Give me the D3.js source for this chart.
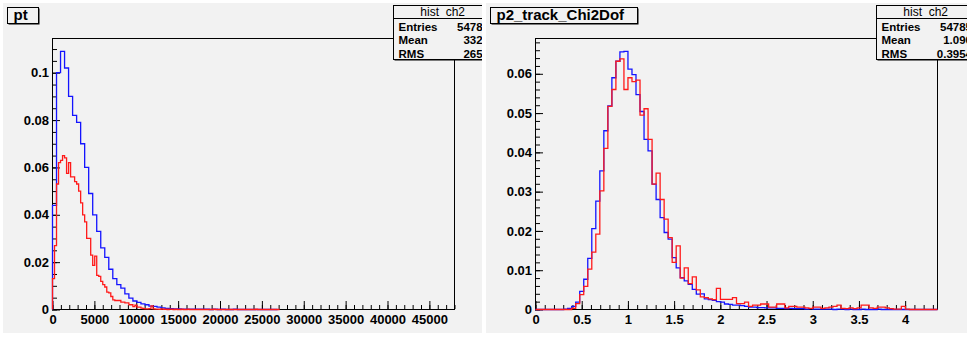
<!DOCTYPE html>
<html>
<head>
<meta charset="utf-8">
<script src="https://cdn.jsdelivr.net/npm/d3@7"></script>
<style>
  html, body { margin: 0; padding: 0; background: #ffffff; }
  svg { display: block; font-family: "Liberation Sans", Arial, Helvetica, sans-serif; }
</style>
</head>
<body>
<svg id="canvas" width="967" height="342"></svg>
<script>
// ---------------- pt : normalised distributions ----------------
const ptBlueBinWidth = 480;
const ptRedBinWidth = 240;
const ptBlue = [
  0.044, 0.100, 0.109, 0.102, 0.090, 0.082, 0.079, 0.070, 0.060, 0.049,
  0.040, 0.033, 0.026, 0.022, 0.017, 0.013, 0.0105, 0.0090, 0.0066, 0.0048,
  0.0036, 0.0030, 0.0024, 0.0020, 0.0014, 0.0013, 0.0010, 0.0007, 0.0005, 0.0004,
  0.0003, 0.0003, 0.0002, 0.0002, 0.0001, 0.0002, 0.0001, 0.0001, 0.0001, 0,
  0.0001, 0, 0.0001, 0, 0, 0.0001, 0, 0, 0, 0,
  0, 0, 0, 0, 0, 0
];
const ptRed = [
  0.013, 0.027, 0.053, 0.062, 0.063, 0.065, 0.064, 0.0575, 0.062, 0.056,
  0.056, 0.054, 0.053, 0.050, 0.045, 0.040, 0.037, 0.030, 0.030, 0.023,
  0.0186, 0.0225, 0.0144, 0.0140, 0.0119, 0.0105, 0.0095, 0.0073, 0.0070, 0.0055,
  0.0041, 0.0038, 0.0038, 0.0038, 0.0031, 0.0031, 0.0028, 0.0028, 0.0020, 0.0020,
  0.0012, 0.0018, 0.0010, 0.0010, 0.0006, 0.0004, 0.0003, 0.0003, 0.0004, 0.0015,
  0.0003, 0.0002, 0.0002, 0.0001, 0.0003, 0.0001, 0.0001, 0, 0.0002, 0.0001,
  0, 0.0001, 0, 0, 0.0001, 0, 0, 0.0001, 0, 0,
  0, 0, 0, 0, 0, 0, 0, 0, 0, 0,
  0.0001, 0, 0, 0, 0, 0, 0, 0, 0, 0,
  0, 0, 0, 0, 0, 0, 0, 0, 0, 0,
  0, 0.0001, 0, 0, 0, 0, 0, 0, 0, 0, 0, 0, 0
];
const ptXRange = [0, 48000];
const ptXTicks = [0, 5000, 10000, 15000, 20000, 25000, 30000, 35000, 40000, 45000];
const ptXLabels = ["0", "5000", "10000", "15000", "20000", "25000", "30000", "35000", "40000", "45000"];
const ptYTicks = [0, 0.02, 0.04, 0.06, 0.08, 0.1];
const ptYLabels = ["0", "0.02", "0.04", "0.06", "0.08", "0.1"];
const ptStats = [["Entries", "54785"], ["Mean", "3323"], ["RMS", "2657"]];

// ---------------- p2_track_Chi2Dof : normalised distributions ----------------
const chiBinWidth = 0.0435;
const chiBlue = [
  0, 0, 0, 0, 0, 0, 0, 0.0001, 0.0003, 0.0008,
  0.0019, 0.0046, 0.0077, 0.0130, 0.0206, 0.0276, 0.0353, 0.0455, 0.0518, 0.0590,
  0.0632, 0.0656, 0.0657, 0.0612, 0.0598, 0.0547, 0.0504, 0.0433, 0.0404, 0.0319,
  0.0280, 0.0234, 0.0196, 0.0179, 0.0132, 0.0106, 0.0081, 0.0073, 0.0064, 0.0051,
  0.0039, 0.0040, 0.0027, 0.0025, 0.0023, 0.0020, 0.0019, 0.0014, 0.0013, 0.0011,
  0.0011, 0.0010, 0.0008, 0.0006, 0.0006, 0.0005, 0.0005, 0.0004, 0.0004, 0.0004,
  0.0003, 0.0003, 0.0002, 0.0003, 0.0002, 0.0002, 0.0002, 0.0001, 0.0002, 0.0001,
  0.0001, 0.0001, 0.0001, 0.0001, 0, 0.0001, 0.0001, 0, 0.0001, 0,
  0, 0.0001, 0, 0, 0, 0.0001, 0, 0, 0, 0,
  0, 0, 0, 0, 0, 0, 0, 0, 0, 0
];
const chiRed = [
  0, 0, 0, 0, 0, 0, 0, 0, 0, 0.0003,
  0.0015, 0.0038, 0.0059, 0.0103, 0.0146, 0.0192, 0.0302, 0.0410, 0.0517, 0.0560,
  0.0632, 0.0638, 0.0560, 0.0590, 0.0580, 0.0584, 0.0495, 0.0511, 0.0433, 0.0319,
  0.0347, 0.0280, 0.0230, 0.0183, 0.0120, 0.0162, 0.0080, 0.0106, 0.0066, 0.0083,
  0.0050, 0.0032, 0.0030, 0.0027, 0.0025, 0.0054, 0.0026, 0.0026, 0.0026, 0.0030,
  0.0015, 0.0015, 0.0019, 0.0008, 0.0011, 0.0011, 0.0014, 0.0014, 0.0006, 0.0006,
  0.0014, 0.0014, 0.0004, 0.0008, 0.0008, 0.0006, 0.0006, 0.0004, 0.0003, 0.0006,
  0.0006, 0.0003, 0.0004, 0.0006, 0.0008, 0.0011, 0.0003, 0.0002, 0.0004, 0.0002,
  0.0004, 0.0011, 0.0011, 0.0004, 0.0003, 0.0006, 0.0006, 0.0004, 0.0002, 0.0001,
  0.0001, 0.0008, 0.0001, 0, 0, 0, 0, 0, 0, 0
];
const chiXRange = [0, 4.35];
const chiXTicks = [0, 0.5, 1, 1.5, 2, 2.5, 3, 3.5, 4];
const chiXLabels = ["0", "0.5", "1", "1.5", "2", "2.5", "3", "3.5", "4"];
const chiYTicks = [0, 0.01, 0.02, 0.03, 0.04, 0.05, 0.06];
const chiYLabels = ["0", "0.01", "0.02", "0.03", "0.04", "0.05", "0.06"];
const chiStats = [["Entries", "54785"], ["Mean", "1.090"], ["RMS", "0.3954"]];

const statsTitle = "hist_ch2";
const blueColor = "#1414ff";
const redColor = "#ff1a1a";

// ---------------- shared pad layout ----------------
const pad = { left: 3, top: 3, bottom: 333 };
const frame = { left: 52.5, right: 454.5, top: 38.5, bottom: 309.5 };

const panels = [
  {
    id: "pt", offset: 0, padRight: 482, title: "pt",
    xRange: ptXRange, xTicks: ptXTicks, xLabels: ptXLabels, xMinor: 1000,
    yTicks: ptYTicks, yLabels: ptYLabels, yMinor: 0.005,
    hists: [
      { values: ptBlue, width: ptBlueBinWidth, color: blueColor },
      { values: ptRed, width: ptRedBinWidth, color: redColor }
    ],
    stats: ptStats
  },
  {
    id: "chi", offset: 483, padRight: 967, title: "p2_track_Chi2Dof",
    xRange: chiXRange, xTicks: chiXTicks, xLabels: chiXLabels, xMinor: 0.1,
    yTicks: chiYTicks, yLabels: chiYLabels, yMinor: 0.002,
    hists: [
      { values: chiBlue, width: chiBinWidth, color: blueColor },
      { values: chiRed, width: chiBinWidth, color: redColor }
    ],
    stats: chiStats
  }
];

const svg = d3.select("#canvas");
svg.append("rect").attr("width", 967).attr("height", 342).attr("fill", "#ffffff");
const defs = svg.append("defs");

panels.forEach(p => {
  const padW = p.padRight - p.offset - pad.left;
  defs.append("clipPath").attr("id", "clip-" + p.id)
    .append("rect").attr("x", pad.left).attr("y", pad.top)
    .attr("width", padW).attr("height", pad.bottom - pad.top);

  const g = svg.append("g")
    .attr("transform", `translate(${p.offset},0)`)
    .attr("clip-path", `url(#clip-${p.id})`);

  g.append("rect").attr("x", pad.left).attr("y", pad.top)
    .attr("width", padW).attr("height", pad.bottom - pad.top)
    .attr("fill", "#f2f2f2");

  // vertical range: 5% headroom above the tallest bin of the first histogram
  const yMax = 1.05 * d3.max(p.hists[0].values);
  const x = d3.scaleLinear().domain(p.xRange).range([frame.left, frame.right]);
  const y = d3.scaleLinear().domain([0, yMax]).range([frame.bottom, frame.top]);

  // frame
  g.append("rect")
    .attr("x", frame.left).attr("y", frame.top)
    .attr("width", frame.right - frame.left).attr("height", frame.bottom - frame.top)
    .attr("fill", "none").attr("stroke", "#000").attr("stroke-width", 1);

  const styleAxis = sel => {
    sel.select(".domain").remove();
    sel.selectAll("line").attr("stroke", "#000").attr("stroke-width", 1);
    sel.selectAll("text")
      .attr("fill", "#000")
      .attr("font-family", "'Liberation Sans', Arial, Helvetica, sans-serif")
      .attr("font-weight", "bold")
      .attr("font-size", 13);
  };

  // x axis: minor then major ticks, pointing into the frame
  const xMinorVals = d3.range(p.xRange[0], p.xRange[1] + 1e-9, p.xMinor);
  g.append("g").attr("transform", `translate(0,${frame.bottom - 0.5})`)
    .call(d3.axisBottom(x).tickValues(xMinorVals).tickSize(-4).tickFormat(""))
    .call(styleAxis);
  g.append("g").attr("transform", `translate(0,${frame.bottom - 0.5})`)
    .call(d3.axisBottom(x).tickValues(p.xTicks).tickSize(-8).tickPadding(6)
      .tickFormat((d, i) => p.xLabels[i]))
    .call(styleAxis);

  // y axis
  const yMinorVals = d3.range(0, yMax, p.yMinor);
  g.append("g").attr("transform", `translate(${frame.left - 0.5},0)`)
    .call(d3.axisLeft(y).tickValues(yMinorVals).tickSize(-5).tickFormat(""))
    .call(styleAxis);
  g.append("g").attr("transform", `translate(${frame.left - 0.5},0)`)
    .call(d3.axisLeft(y).tickValues(p.yTicks).tickSize(-8).tickPadding(3)
      .tickFormat((d, i) => p.yLabels[i]))
    .call(styleAxis);

  // step outlines of each histogram
  const line = d3.line().x(d => x(d[0])).y(d => y(d[1]));
  p.hists.forEach(h => {
    const pts = [[p.xRange[0], 0]];
    h.values.forEach((v, i) => {
      pts.push([p.xRange[0] + i * h.width, v]);
      pts.push([p.xRange[0] + (i + 1) * h.width, v]);
    });
    pts.push([p.xRange[0] + h.values.length * h.width, 0]);
    g.append("path").datum(pts)
      .attr("d", line)
      .attr("fill", "none")
      .attr("stroke", h.color)
      .attr("stroke-width", 1.3)
      .attr("stroke-linejoin", "miter");
  });

  // title box
  const tg = g.append("g");
  const titleText = tg.append("text")
    .attr("x", 13.5).attr("y", 19.5)
    .attr("font-size", 15).attr("font-weight", "bold").attr("fill", "#000")
    .text(p.title);
  const tw = titleText.node().getComputedTextLength();
  const boxW = Math.round(tw * 1.03 + 16);
  tg.insert("rect", "text")
    .attr("x", 8.5).attr("y", 8.5).attr("width", boxW).attr("height", 16)
    .attr("fill", "#000");
  tg.insert("rect", "text")
    .attr("x", 7.5).attr("y", 7.5).attr("width", boxW).attr("height", 16)
    .attr("fill", "#f2f2f2").attr("stroke", "#000").attr("stroke-width", 1);

  // statistics box
  const sx = 393.5, sy = 5.5, sw = 100, sh = 54;
  const sg = g.append("g");
  sg.append("rect").attr("x", sx + 1).attr("y", sy + 1).attr("width", sw).attr("height", sh)
    .attr("fill", "#000");
  sg.append("rect").attr("x", sx).attr("y", sy).attr("width", sw).attr("height", sh)
    .attr("fill", "#f2f2f2").attr("stroke", "#000").attr("stroke-width", 1);
  sg.append("line").attr("x1", sx).attr("x2", sx + sw).attr("y1", 18.5).attr("y2", 18.5)
    .attr("stroke", "#000").attr("stroke-width", 1);
  sg.append("text").attr("x", 442.7).attr("y", 15.5).attr("text-anchor", "middle")
    .attr("font-size", 12).attr("fill", "#000").text(statsTitle);
  const rowY = [30.5, 44, 57.5];
  p.stats.forEach((r, i) => {
    sg.append("text").attr("x", 398.5).attr("y", rowY[i])
      .attr("font-size", 11.5).attr("font-weight", "bold").attr("fill", "#000").text(r[0]);
    sg.append("text").attr("x", 489).attr("y", rowY[i]).attr("text-anchor", "end")
      .attr("font-size", 11.5).attr("font-weight", "bold").attr("fill", "#000").text(r[1]);
  });
});
</script>
</body>
</html>
